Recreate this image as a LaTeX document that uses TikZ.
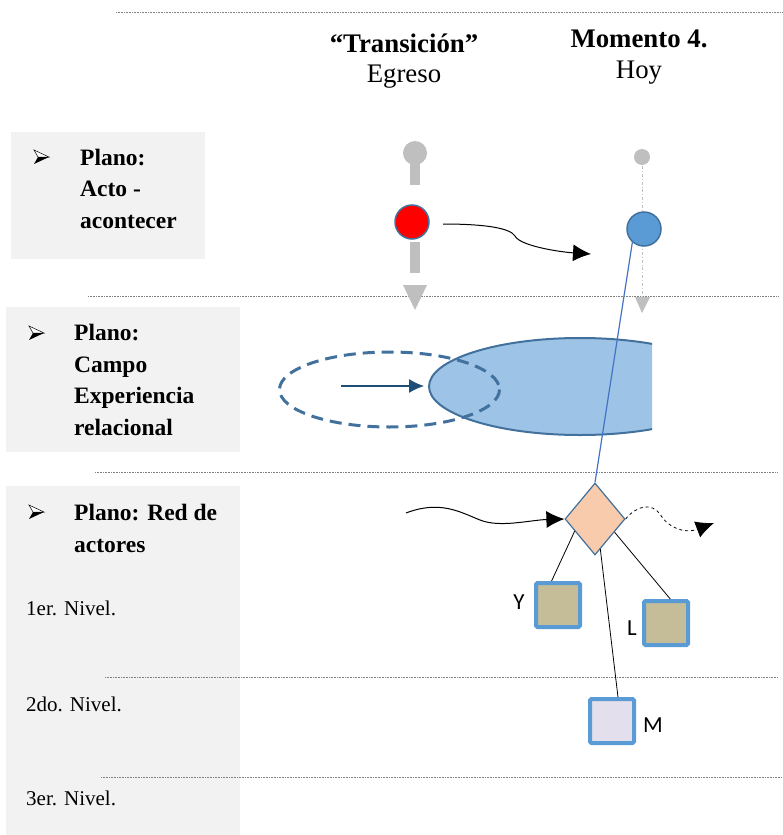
\documentclass[tikz,border=0pt]{standalone}
\usepackage{fontspec}
\setmainfont{Liberation Serif}
\newfontfamily\labelfont{Carlito}
\usetikzlibrary{arrows.meta,shapes.geometric}

\definecolor{panelgray}{HTML}{F2F2F2}
\definecolor{pingray}{HTML}{BFBFBF}
\definecolor{edgeblue}{HTML}{41719C}
\definecolor{fieldblue}{HTML}{9DC3E6}
\definecolor{nodeblue}{HTML}{5B9BD5}
\definecolor{linkblue}{HTML}{4472C4}
\definecolor{darkblue}{HTML}{1F4E79}
\definecolor{peach}{HTML}{F8CBAD}
\definecolor{khaki}{HTML}{C4BD97}
\definecolor{lilac}{HTML}{E4DFEC}

% arrow bullet at (x, y) of its back corner
\newcommand{\arrowbullet}[2]{%
  \draw[line width=0.5pt, fill=white] (#1,#2-7) -- (#1+15,#2) -- (#1+4,#2) -- cycle;
  \fill (#1+4,#2) -- (#1+15,#2) -- (#1,#2+7) -- cycle;}

\begin{document}
\begin{tikzpicture}[x=1pt, y=-1pt,
    sep/.style={gray, line width=0.8pt, dash pattern=on 1pt off 0.6pt},
    heading/.style={font=\fontsize{26.8}{30}\selectfont},
    planotext/.style={anchor=base west, align=left, inner sep=0pt, font=\fontsize{23.5}{31.5}\selectfont\bfseries},
    nivel/.style={anchor=base west, inner sep=0pt, font=\fontsize{21}{25}\selectfont},
    dot/.style={circle, draw=edgeblue, line width=1.5pt, minimum size=34pt, inner sep=0pt},
    actor/.style={draw=nodeblue, line width=4pt, rounded corners=1.5pt, minimum size=44pt, inner sep=0pt},
    actorlabel/.style={font=\labelfont\fontsize{23}{26}\selectfont},
    tip/.style={-{Latex[length=18pt, width=17pt]}}]
    \useasboundingbox (0,0) rectangle (783,835);
    % Panels
    \fill[panelgray] (11,132) rectangle (205,259);
    \fill[panelgray] (6,307) rectangle (240,452);
    \fill[panelgray] (6,486) rectangle (240,835);
    % Separators
    \draw[sep] (116,12) -- (783,12);
    \draw[sep] (88,296) -- (778,296);
    \draw[sep] (95,472) -- (778,472);
    \draw[sep] (105,677) -- (778,677);
    \draw[sep] (101,777) -- (783,777);
    % Headings
    \node[heading, anchor=base] (transicion) at (404,52) {\bfseries “Transición”};
    \node[heading, anchor=base] (egreso) at (404,82) {Egreso};
    \node[heading, anchor=base] (momento) at (639,47) {\bfseries Momento 4.};
    \node[heading, anchor=base] (hoytext) at (639,78) {Hoy};
    % Planos (base = last line)
    \arrowbullet{34}{157}
    \node[planotext] (plano1) at (80,228) {Plano:\\Acto -\\acontecer};
    \arrowbullet{29}{333}
    \node[planotext] (plano2) at (74,435) {Plano:\\Campo\\Experiencia\\relacional};
    \arrowbullet{29}{512}
    \node[planotext] (plano3) at (74,552) {Plano: Red de\\actores};
    \node[nivel] (nivel1) at (26,615) {1er. Nivel.};
    \node[nivel] (nivel2) at (26,711) {2do. Nivel.};
    \node[nivel] (nivel3) at (26,805) {3er. Nivel.};
    % Acto - acontecer: egreso pin
    \fill[pingray] (415,153) circle (12);
    \fill[pingray] (410,163) rectangle (420,185);
    \fill[pingray] (410,242) rectangle (420,273);
    \fill[pingray] (403,285) -- (427,285) -- (415,310) -- cycle;
    \node[dot, fill=red] (pasado) at (412,222) {};
    % Acto - acontecer: hoy pin
    \fill[pingray] (642,157) circle (8);
    \draw[pingray, line width=0.8pt, dash dot] (642,166) -- (642,297);
    \fill[pingray] (635,297) -- (650,297) -- (642,313) -- cycle;
    \node[dot, fill=nodeblue] (hoy) at (644,229) {};
    \coordinate (salto) at (443,224);
    \coordinate (llegada) at (591,254);
    \draw[tip, line width=1pt] (salto) .. controls (485,224) and (510,228) .. (515,236) .. controls (520,246) and (560,252) .. (llegada);
    % Campo experiencia
    \begin{scope}
        \clip (0,0) rectangle (652,835);
        \draw[edgeblue, line width=2pt, fill=fieldblue] (580,386.5) ellipse (151 and 48.5);
    \end{scope}
    \draw[edgeblue, line width=3pt, dash pattern=on 12pt off 7pt] (389.5,389.5) ellipse (110 and 37.5);
    \coordinate (campoin) at (341,386);
    \coordinate (campoout) at (424,386);
    \draw[darkblue, line width=1.2pt, -{Latex[length=15pt, width=14pt]}] (campoin) -- (campoout);
    % Red de actores
    \node[diamond, draw=edgeblue, fill=peach, line width=1.2pt, aspect=0.83, minimum width=60pt, minimum height=72pt, inner sep=0pt] (red) at (595,519) {};
    \draw[linkblue, line width=1.2pt] (hoy.229) -- (red.north);
    \coordinate (redin) at (406,513);
    \draw[tip, line width=1pt] (redin) .. controls (440,500) and (460,512) .. (480,520) .. controls (500,528) and (530,520) .. (red.west);
    \coordinate (redout) at (714,523);
    \draw[tip, dashed, line width=0.8pt] (red.east) .. controls (637,505) and (652,503) .. (660,514) .. controls (668,528) and (685,534) .. (redout);
    \node[actor, fill=khaki] (y) at (558,605) {};
    \node[actor, fill=khaki] (l) at (666,623) {};
    \node[actor, fill=lilac] (m) at (612,721) {};
    \node[actorlabel] (ylabel) at (519,602) {Y};
    \node[actorlabel] (llabel) at (632,628) {L};
    \node[actorlabel] (mlabel) at (653,725) {M};
    \draw[line width=0.8pt] (red.211) -- (y.105);
    \draw[line width=0.8pt] (red.326) -- (l.80);
    \draw[line width=0.8pt] (red.280) -- (m.76);
\end{tikzpicture}
\end{document}
